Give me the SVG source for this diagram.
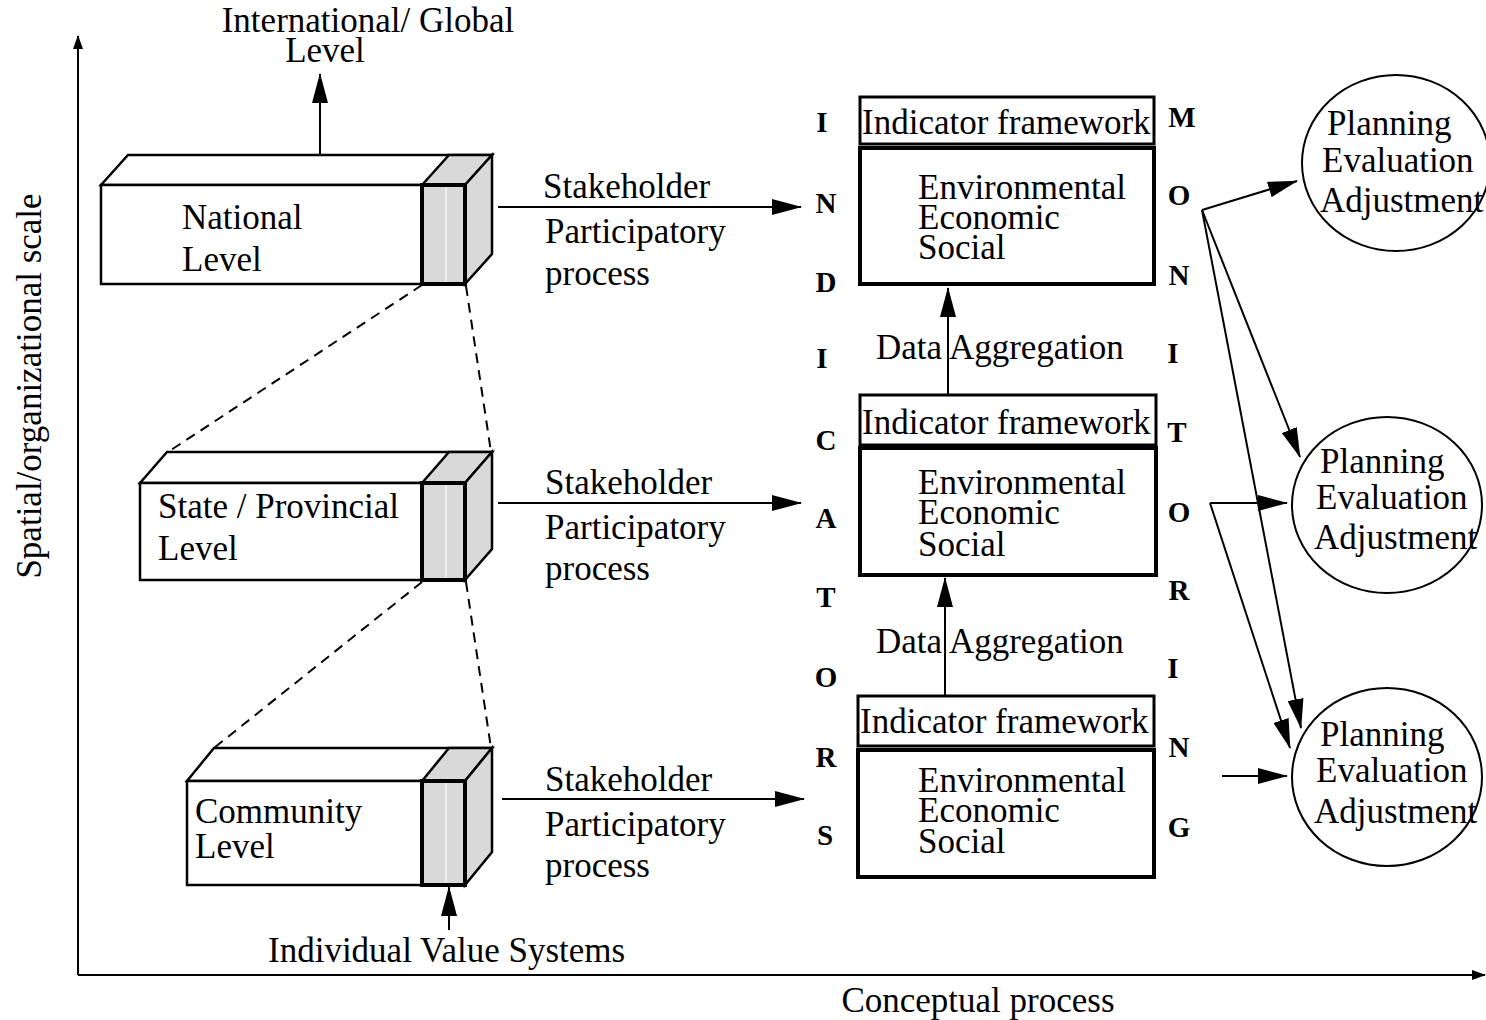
<svg xmlns="http://www.w3.org/2000/svg" width="1486" height="1020" viewBox="0 0 1486 1020">
<style>
text{font-family:"Liberation Serif","Times New Roman",serif;font-size:35px;fill:#000}
.let{font-size:29px;font-weight:bold;text-anchor:middle}
.ln{stroke:#000;stroke-width:2;fill:none}
.dash{stroke:#000;stroke-width:2;fill:none;stroke-dasharray:10,7}
.face{fill:#fff;stroke:#000;stroke-width:2.5;stroke-linejoin:miter}
.gray{fill:#d9d9d9;stroke:#000;stroke-width:2.5}
.grayk{fill:#d9d9d9;stroke:#000;stroke-width:4}
.hl{stroke:#f4f4f4;stroke-width:1.5}
.box{fill:#fff;stroke:#000;stroke-width:3}
.boxk{fill:#fff;stroke:#000;stroke-width:4}
.ell{fill:#fff;stroke:#000;stroke-width:2}
</style>
<defs>
<marker id="ah" viewBox="0 0 30 16" markerWidth="30" markerHeight="16" refX="29" refY="8" orient="auto" markerUnits="userSpaceOnUse"><path d="M0,0 L30,8 L0,16 z" fill="#000"/></marker>
<marker id="as" viewBox="0 0 14 10" markerWidth="14" markerHeight="10" refX="13" refY="5" orient="auto" markerUnits="userSpaceOnUse"><path d="M0,0 L14,5 L0,10 z" fill="#000"/></marker>
</defs>

<g id="axes">
<line class="ln" x1="78" y1="975" x2="78" y2="36" marker-end="url(#as)"/>
<line class="ln" x1="78" y1="975" x2="1485" y2="975" marker-end="url(#as)"/>
<text transform="translate(41,386) rotate(-90)" text-anchor="middle">Spatial/organizational scale</text>
<text x="978" y="1012" text-anchor="middle">Conceptual process</text>
</g>

<g id="global-label">
<text x="368" y="32" text-anchor="middle">International/ Global</text>
<text x="325" y="62" text-anchor="middle">Level</text>
</g>

<g id="national">
<polygon class="face" points="101,185 128,155 492,155 465,185"/>
<polygon class="gray" points="422,185 449,155 492,155 465,185"/>
<polygon class="gray" points="465,185 492,155 492,254 465,284"/>
<rect class="face" x="101" y="185" width="364" height="99"/>
<rect class="grayk" x="422" y="185" width="43" height="99"/>
<line class="hl" x1="446" y1="187" x2="446" y2="282"/>
<text x="182" y="229">National</text>
<text x="182" y="271">Level</text>
</g>

<g id="state">
<polygon class="face" points="140,483 167,452 492,452 465,483"/>
<polygon class="gray" points="422,483 449,452 492,452 465,483"/>
<polygon class="gray" points="465,483 492,452 492,549 465,580"/>
<rect class="face" x="140" y="483" width="325" height="97"/>
<rect class="grayk" x="422" y="483" width="43" height="97"/>
<line class="hl" x1="446" y1="485" x2="446" y2="578"/>
<text x="158" y="518">State / Provincial</text>
<text x="158" y="560">Level</text>
</g>

<g id="community">
<polygon class="face" points="187,781 214,748 492,748 465,781"/>
<polygon class="gray" points="422,781 449,748 492,748 465,781"/>
<polygon class="gray" points="465,781 492,748 492,852 465,885"/>
<rect class="face" x="187" y="781" width="278" height="104"/>
<rect class="grayk" x="422" y="781" width="43" height="104"/>
<line class="hl" x1="446" y1="783" x2="446" y2="883"/>
<text x="195" y="823">Community</text>
<text x="195" y="858">Level</text>
</g>

<g id="individual">
<text x="268" y="962">Individual Value Systems</text>
</g>

<g id="stakeholder-labels">
<text x="543" y="198">Stakeholder</text>
<text x="545" y="243">Participatory</text>
<text x="545" y="285">process</text>
<text x="545" y="494">Stakeholder</text>
<text x="545" y="539">Participatory</text>
<text x="545" y="580">process</text>
<text x="545" y="791">Stakeholder</text>
<text x="545" y="836">Participatory</text>
<text x="545" y="877">process</text>
</g>

<g id="indicators">
<text class="let" x="822" y="132">I</text>
<text class="let" x="826" y="213">N</text>
<text class="let" x="826" y="292">D</text>
<text class="let" x="822" y="368">I</text>
<text class="let" x="826" y="450">C</text>
<text class="let" x="826" y="528">A</text>
<text class="let" x="826" y="607">T</text>
<text class="let" x="826" y="687">O</text>
<text class="let" x="826" y="767">R</text>
<text class="let" x="825" y="845">S</text>
</g>

<g id="monitoring">
<text class="let" x="1182" y="127">M</text>
<text class="let" x="1179" y="205">O</text>
<text class="let" x="1179" y="285">N</text>
<text class="let" x="1173" y="363">I</text>
<text class="let" x="1177" y="442">T</text>
<text class="let" x="1179" y="522">O</text>
<text class="let" x="1179" y="600">R</text>
<text class="let" x="1173" y="678">I</text>
<text class="let" x="1179" y="757">N</text>
<text class="let" x="1179" y="837">G</text>
</g>

<g id="framework1">
<rect class="box" x="860" y="97" width="294" height="47"/>
<rect class="boxk" x="860" y="148" width="294" height="136"/>
<text x="862" y="134">Indicator framework</text>
<text x="918" y="199">Environmental</text>
<text x="918" y="229">Economic</text>
<text x="918" y="259">Social</text>
</g>

<g id="framework2">
<rect class="box" x="860" y="395" width="296" height="50"/>
<rect class="boxk" x="860" y="448" width="296" height="127"/>
<text x="862" y="434">Indicator framework</text>
<text x="918" y="494">Environmental</text>
<text x="918" y="524">Economic</text>
<text x="918" y="556">Social</text>
</g>

<g id="framework3">
<rect class="box" x="858" y="696" width="296" height="50"/>
<rect class="boxk" x="858" y="750" width="296" height="127"/>
<text x="860" y="733">Indicator framework</text>
<text x="918" y="792">Environmental</text>
<text x="918" y="822">Economic</text>
<text x="918" y="853">Social</text>
</g>

<g id="aggregation-labels">
<text x="876" y="359">Data Aggregation</text>
<text x="876" y="653">Data Aggregation</text>
</g>

<g id="pea1">
<ellipse class="ell" cx="1396" cy="163" rx="94" ry="88"/>
<text x="1327" y="135">Planning</text>
<text x="1322" y="172">Evaluation</text>
<text x="1320" y="212">Adjustment</text>
</g>
<g id="pea2">
<ellipse class="ell" cx="1387" cy="505" rx="95" ry="88"/>
<text x="1320" y="473">Planning</text>
<text x="1316" y="509">Evaluation</text>
<text x="1314" y="549">Adjustment</text>
</g>
<g id="pea3">
<ellipse class="ell" cx="1387" cy="777" rx="95" ry="89"/>
<text x="1320" y="746">Planning</text>
<text x="1316" y="782">Evaluation</text>
<text x="1314" y="823">Adjustment</text>
</g>

<g id="connectors">
<line class="ln" x1="320" y1="155" x2="320" y2="74" marker-end="url(#ah)"/>
<line class="dash" x1="422" y1="285" x2="168" y2="452"/>
<line class="dash" x1="466" y1="286" x2="491" y2="452"/>
<line class="dash" x1="422" y1="582" x2="214" y2="748"/>
<line class="dash" x1="466" y1="582" x2="491" y2="748"/>
<line class="ln" x1="449" y1="930" x2="449" y2="887" marker-end="url(#ah)"/>
<line class="ln" x1="498" y1="207" x2="801" y2="207" marker-end="url(#ah)"/>
<line class="ln" x1="498" y1="503" x2="801" y2="503" marker-end="url(#ah)"/>
<line class="ln" x1="502" y1="799" x2="804" y2="799" marker-end="url(#ah)"/>
<line class="ln" x1="948" y1="395" x2="948" y2="288" marker-end="url(#ah)"/>
<line class="ln" x1="945" y1="696" x2="945" y2="578" marker-end="url(#ah)"/>
<line class="ln" x1="1202" y1="210" x2="1297" y2="181" marker-end="url(#ah)"/>
<line class="ln" x1="1202" y1="210" x2="1300" y2="457" marker-end="url(#ah)"/>
<line class="ln" x1="1202" y1="210" x2="1301" y2="728" marker-end="url(#ah)"/>
<line class="ln" x1="1210" y1="503" x2="1287" y2="503" marker-end="url(#ah)"/>
<line class="ln" x1="1210" y1="503" x2="1290" y2="748" marker-end="url(#ah)"/>
<line class="ln" x1="1222" y1="776" x2="1287" y2="776" marker-end="url(#ah)"/>
</g>
</svg>
